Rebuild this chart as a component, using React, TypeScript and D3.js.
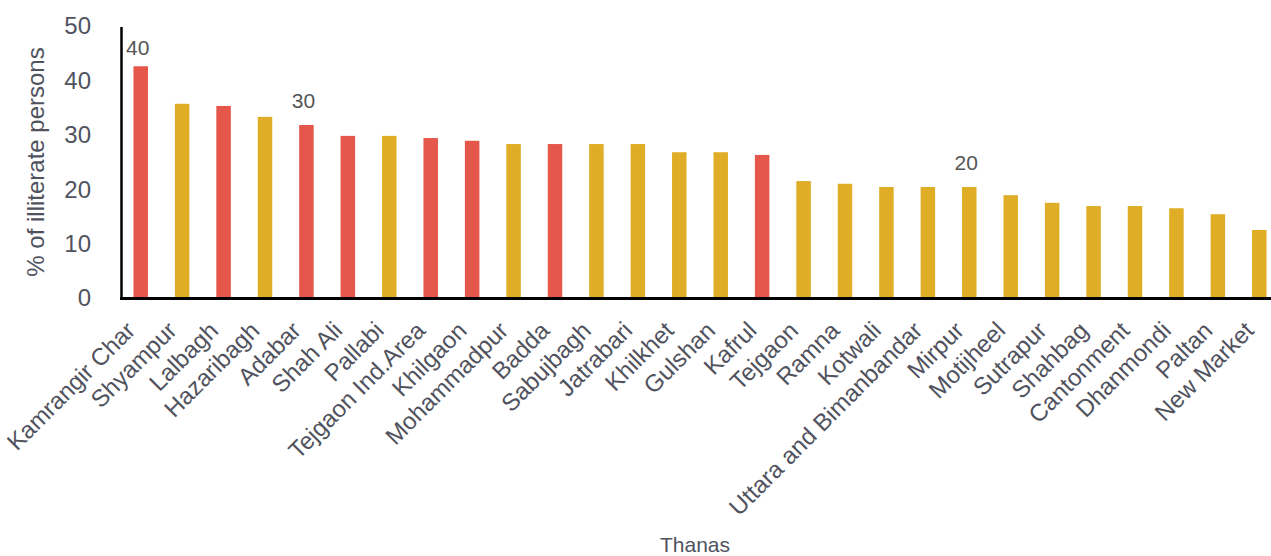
import React from "react";
import * as d3 from "d3";

const thanas = [
  "Kamrangir Char", "Shyampur", "Lalbagh", "Hazaribagh", "Adabar", "Shah Ali", "Pallabi",
  "Tejgaon Ind.Area", "Khilgaon", "Mohammadpur", "Badda", "Sabujbagh", "Jatrabari", "Khilkhet",
  "Gulshan", "Kafrul", "Tejgaon", "Ramna", "Kotwali", "Uttara and Bimanbandar", "Mirpur",
  "Motijheel", "Sutrapur", "Shahbag", "Cantonment", "Dhanmondi", "Paltan", "New Market",
];
const illiteratePct = [
  42.6, 35.7, 35.3, 33.3, 31.8, 29.8, 29.8, 29.4, 28.9, 28.3, 28.3, 28.3, 28.3, 26.8,
  26.8, 26.3, 21.5, 21.0, 20.4, 20.4, 20.4, 18.9, 17.5, 16.9, 16.9, 16.5, 15.4, 12.5,
];
const highlighted = [
  "Kamrangir Char", "Lalbagh", "Adabar", "Shah Ali", "Tejgaon Ind.Area", "Khilgaon", "Badda", "Kafrul",
];
const yTicks = [0, 10, 20, 30, 40, 50];
const annotationLabels = ["40", "30", "20"];
const annotationThanas = ["Kamrangir Char", "Adabar", "Mirpur"];
const annotationValues = [46, 36.2, 24.9];

const W = 1271;
const H = 556;
const RED = "#E4574A";
const GOLD = "#E0AE26";
const TEXT = "#50525e";
const FONT = "'Liberation Sans', Arial, sans-serif";

export default function App() {
  const x = d3.scaleBand<string>().domain(thanas).range([120, 1280]).paddingInner(0.65).paddingOuter(0.325);
  const y = d3.scaleLinear().domain([0, 50]).range([298, 26]);
  const bw = x.bandwidth();

  return (
    <svg
      width={W}
      height={H}
      style={{ position: "fixed", left: 0, top: 0, background: "#fff" }}
      fontFamily={FONT}
    >
      {thanas.map((t, i) => (
        <rect
          key={t}
          x={x(t)!}
          y={y(illiteratePct[i])}
          width={bw}
          height={y(0) - y(illiteratePct[i])}
          fill={highlighted.includes(t) ? RED : GOLD}
        />
      ))}
      {/* axes */}
      <line x1={121.5} x2={121.5} y1={27} y2={299} stroke="#000" strokeWidth={2.5} />
      <line x1={120} x2={W} y1={298.5} y2={298.5} stroke="#000" strokeWidth={3} />
      {yTicks.map((v) => (
        <text key={v} x={91} y={y(v)} dy="0.35em" textAnchor="end" fontSize={24} fill={TEXT}>
          {v}
        </text>
      ))}
      {thanas.map((t) => {
        const cx = x(t)! + bw / 2 - 4;
        return (
          <text
            key={t}
            transform={`translate(${cx},332) rotate(-45)`}
            textAnchor="end"
            fontSize={24}
            fill={TEXT}
          >
            {t}
          </text>
        );
      })}
      {annotationLabels.map((lab, i) => (
        <text
          key={lab}
          x={x(annotationThanas[i])! + bw / 2 - 3}
          y={y(annotationValues[i])}
          dy="0.35em"
          textAnchor="middle"
          fontSize={21}
          fill="#555"
        >
          {lab}
        </text>
      ))}
      <text
        transform={`translate(44,162) rotate(-90)`}
        textAnchor="middle"
        fontSize={24}
        fill={TEXT}
      >
        % of illiterate persons
      </text>
      <text x={695} y={552} textAnchor="middle" fontSize={21} fill={TEXT}>
        Thanas
      </text>
    </svg>
  );
}
